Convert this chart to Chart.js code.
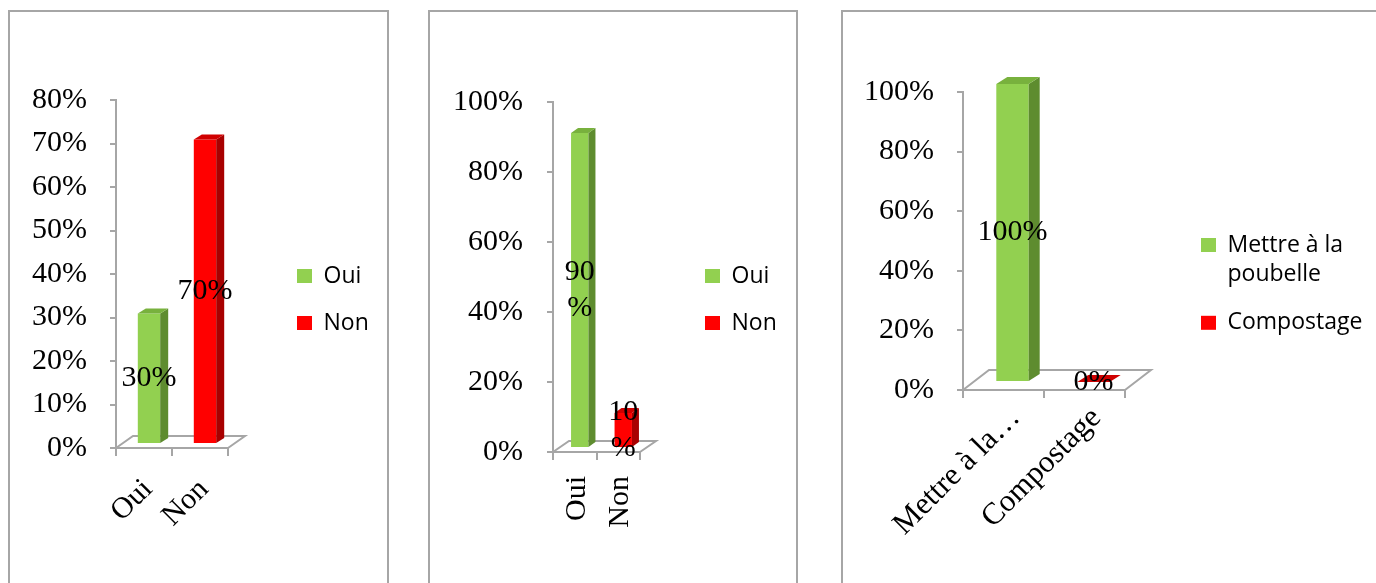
<!DOCTYPE html>
<html>
<head>
<meta charset="utf-8">
<script src="https://cdn.jsdelivr.net/npm/chart.js@4.4.1/dist/chart.umd.min.js"></script>
<style>
html, body { margin: 0; padding: 0; background: #fff; overflow: hidden; width: 1376px; height: 583px; }
.panel { position: absolute; box-sizing: border-box; border: 2px solid #a6a6a6; background: #fff; }
.box { position: absolute; }
</style>
</head>
<body>
<div class="panel" style="left:8px;top:10px;width:381px;height:600px"></div>
<div class="panel" style="left:428px;top:10px;width:370px;height:600px"></div>
<div class="panel" style="left:841px;top:10px;width:600px;height:600px"></div>
<canvas id="c1" class="box" width="377" height="571" style="left:10px;top:12px"></canvas>
<canvas id="c2" class="box" width="366" height="571" style="left:430px;top:12px"></canvas>
<canvas id="c3" class="box" width="533" height="571" style="left:843px;top:12px"></canvas>
<script>
var SERIF = '"Liberation Serif", "Times New Roman", serif';
var SANS = '"Open Sans", "Noto Sans", sans-serif';
var AXIS = '#a6a6a6';

// chart 1
var cat1 = ['Oui', 'Non'];
var val1 = [30, 70];
var yTicks1 = ['0%', '10%', '20%', '30%', '40%', '50%', '60%', '70%', '80%'];

// chart 2
var cat2 = ['Oui', 'Non'];
var val2 = [90, 10];
var yTicks2 = ['0%', '20%', '40%', '60%', '80%', '100%'];

// chart 3
var cat3 = [['Mettre à la', 'poubelle'], 'Compostage'];
var xTicks3 = ['Mettre à la…', 'Compostage'];
var val3 = [100, 0];
var yTicks3 = ['0%', '20%', '40%', '60%', '80%', '100%'];

var FRONT = ['#92d050', '#ff0000'];
var SIDE = ['#5e8c2f', '#a80000'];
var TOP = ['#78b13d', '#d00000'];

// fake 3d: floor, bars pushed back onto it, side + top faces, value labels
var bar3d = {
    id: 'bar3d',
    beforeDatasetsDraw: function(chart, args, o) {
        var ctx = chart.ctx, a = chart.chartArea;
        var y0 = chart.scales.y.getPixelForValue(0);
        ctx.save();
        ctx.strokeStyle = AXIS;
        ctx.lineWidth = 2;
        ctx.beginPath();
        ctx.moveTo(a.left, y0);
        ctx.lineTo(a.left + o.fx, y0 - o.fy);
        ctx.lineTo(a.right + o.fx, y0 - o.fy);
        ctx.lineTo(a.right, y0);
        ctx.stroke();
        ctx.restore();
        ctx.save();
        ctx.translate(o.sx, -o.sy);
    },
    afterDatasetsDraw: function(chart, args, o) {
        var ctx = chart.ctx;
        ctx.restore();
        var meta = chart.getDatasetMeta(0);
        var vals = chart.data.datasets[0].data;
        ctx.save();
        ctx.translate(o.sx, -o.sy);
        meta.data.forEach(function(bar, i) {
            var p = bar.getProps(['x', 'y', 'base', 'width'], true);
            var l = p.x - p.width / 2, r = p.x + p.width / 2;
            ctx.fillStyle = SIDE[i];
            ctx.beginPath();
            ctx.moveTo(r, p.y);
            ctx.lineTo(r + o.dx, p.y - o.dy);
            ctx.lineTo(r + o.dx, p.base - o.dy);
            ctx.lineTo(r, p.base);
            ctx.closePath();
            ctx.fill();
            ctx.fillStyle = TOP[i];
            ctx.beginPath();
            ctx.moveTo(l, p.y);
            ctx.lineTo(l + o.dx, p.y - o.dy);
            ctx.lineTo(r + o.dx, p.y - o.dy);
            ctx.lineTo(r, p.y);
            ctx.closePath();
            ctx.fill();
        });
        ctx.fillStyle = '#000';
        ctx.font = '30px ' + SERIF;
        ctx.textAlign = 'center';
        ctx.textBaseline = 'middle';
        meta.data.forEach(function(bar, i) {
            var p = bar.getProps(['x', 'y', 'base'], true);
            var lines = o.wrap ? [String(vals[i]), '%'] : [vals[i] + '%'];
            var cy = (p.y + p.base) / 2 - (lines.length - 1) * 36 / 2;
            lines.forEach(function(t, k) {
                ctx.fillText(t, p.x, cy + k * 36);
            });
        });
        ctx.restore();
    }
};

// legend box gets a fixed width so it starts where the original one does
var legendWidth = {
    id: 'legendWidth',
    beforeLayout: function(chart, args, o) {
        var lg = chart.legend;
        if (lg && !lg._fixedWidth) {
            var fit = lg.fit;
            lg.fit = function() {
                fit.call(this);
                this.width = o.width;
            };
            lg._fixedWidth = true;
        }
    }
};

function makeChart(id, o) {
    return new Chart(document.getElementById(id), {
        type: 'bar',
        data: {
            labels: o.labels,
            datasets: [{
                data: o.values,
                yAxisID: 'y',
                backgroundColor: FRONT,
                categoryPercentage: 1,
                barPercentage: 0.4
            }]
        },
        plugins: [bar3d, legendWidth],
        options: {
            responsive: false,
            animation: false,
            events: [],
            layout: { padding: { top: o.top, right: 0, bottom: 0, left: 0 } },
            scales: {
                x: {
                    grid: { offset: true, drawOnChartArea: false, drawTicks: true, tickLength: 8, color: AXIS, lineWidth: 2 },
                    border: { display: true, color: AXIS, width: 2 },
                    ticks: {
                        color: '#000', font: { family: SERIF, size: o.xfont },
                        minRotation: o.rot, maxRotation: o.rot, padding: o.xpad,
                        labelOffset: o.xoff, autoSkip: false
                    },
                    afterFit: function(s) { s.height = o.xh; }
                },
                y: {
                    min: 0, max: o.max,
                    grid: { drawOnChartArea: false, drawTicks: true, tickLength: 6, color: AXIS, lineWidth: 2 },
                    border: { display: true, color: AXIS, width: 2 },
                    ticks: {
                        stepSize: o.step, padding: o.ypad, color: '#000',
                        font: { family: SERIF, size: 30 },
                        callback: function(v, i) { return o.yTicks[i]; }
                    },
                    afterFit: function(s) { s.width = o.yw; }
                },
                gap: {
                    type: 'linear', position: 'right', display: true,
                    grid: { display: false, drawTicks: false },
                    border: { display: false },
                    ticks: { display: false },
                    afterFit: function(s) { s.width = o.gap; }
                }
            },
            plugins: {
                legend: {
                    position: 'right', align: 'start',
                    title: { display: true, text: '', padding: { top: o.titlePad, bottom: 0 }, font: { size: 10, lineHeight: 1 } },
                    labels: {
                        boxWidth: 15, boxHeight: 14, padding: o.legPad, color: '#000', textAlign: 'left',
                        font: { family: SANS, size: 23, lineHeight: o.lh },
                        generateLabels: function() {
                            return o.legend.map(function(t, i) {
                                return {
                                    text: t, fillStyle: FRONT[i], strokeStyle: FRONT[i], fontColor: '#000',
                                    lineWidth: 0, hidden: false, index: i, datasetIndex: 0
                                };
                            });
                        }
                    }
                },
                legendWidth: { width: o.lw },
                tooltip: { enabled: false },
                bar3d: { dx: o.dx, dy: o.dy, fx: o.fx, fy: o.fy, sx: o.sx, sy: o.sy, wrap: o.wrap }
            }
        }
    });
}

makeChart('c1', {
    labels: cat1, legend: cat1, values: val1, yTicks: yTicks1, max: 80, step: 10,
    rot: 45, xfont: 30, xpad: 16, xoff: 4,
    top: 88, yw: 106, xh: 135, gap: 45, lw: 114, ypad: 23,
    legPad: 24, titlePad: 130.5, lh: 1.2,
    dx: 8, dy: 5, fx: 17, fy: 12, sx: 5, sy: 4, wrap: false
});
makeChart('c2', {
    labels: cat2, legend: cat2, values: val2, yTicks: yTicks2, max: 100, step: 20,
    rot: 90, xfont: 30, xpad: 16, xoff: 2,
    top: 90, yw: 123, xh: 131, gap: 41, lw: 115, ypad: 24,
    legPad: 24, titlePad: 128.5, lh: 1.2,
    dx: 7, dy: 5, fx: 16, fy: 11, sx: 5, sy: 4, wrap: true
});
makeChart('c3', {
    labels: xTicks3, legend: cat3, values: val3, yTicks: yTicks3, max: 100, step: 20,
    rot: 45, xfont: 31, xpad: 2, xoff: 12,
    top: 80, yw: 120, xh: 193, gap: 58, lw: 193, ypad: 23,
    legPad: 18, titlePad: 113.5, lh: 1.3,
    dx: 11, dy: 7, fx: 26, fy: 20, sx: 9, sy: 8, wrap: false
});
</script>
</body>
</html>
